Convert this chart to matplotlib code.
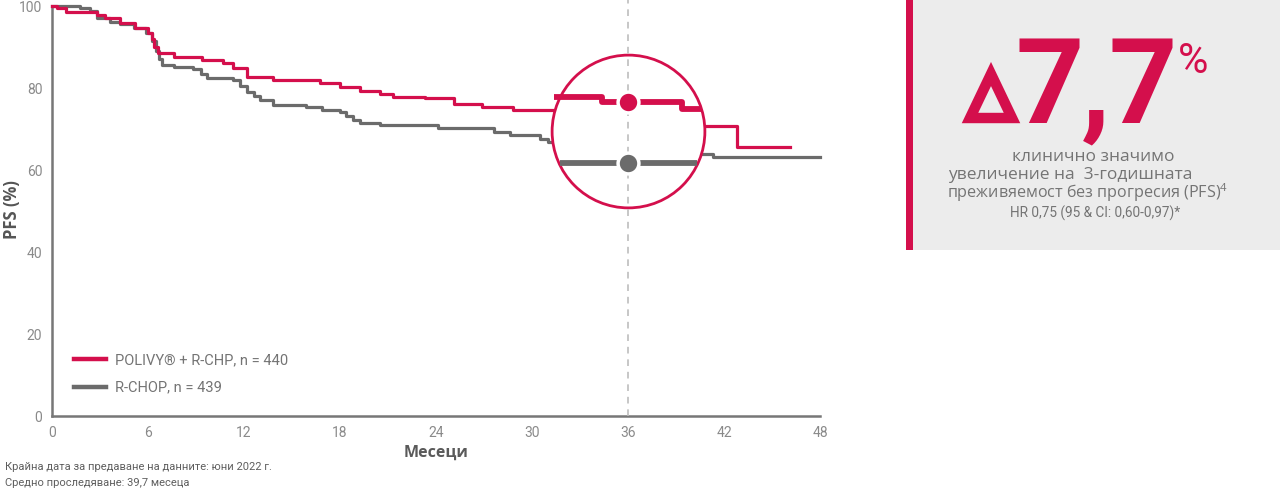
import numpy as np
import matplotlib
matplotlib.use('Agg')
import matplotlib.pyplot as plt
from matplotlib.patches import Rectangle, Polygon
from matplotlib.lines import Line2D

RED = '#d40f4c'
GREY = '#6b6b6b'
TXT = '#747474'

# Kaplan-Meier steps (months, PFS %)
polivy_t = [0, 0.3, 0.9, 2.8, 3.3, 4.25, 5.2, 6.0, 6.25, 6.4, 6.6, 7.6, 9.4, 10.7, 11.3,
            12.2, 13.8, 16.75, 18.0, 19.25, 20.5, 21.3, 23.3, 25.1, 26.9, 28.8, 32.5,
            36.5, 39.5, 40.5, 42.8, 46.1]
polivy_s = [100, 99.4, 98.6, 97.8, 97.0, 95.8, 94.6, 93.4, 92.0, 90.0, 88.5, 87.5, 86.8, 86.0, 85.0,
            82.7, 82.0, 81.3, 80.2, 79.3, 78.5, 77.8, 77.5, 76.1, 75.4, 74.6, 74.0,
            73.0, 71.5, 70.7, 65.6, 65.6]

rchop_t = [0, 1.75, 2.4, 2.8, 3.6, 4.25, 5.1, 5.9, 6.25, 6.5, 6.7, 6.9, 7.6, 8.8, 9.3, 9.7,
           11.3, 11.75, 12.2, 12.6, 13.0, 13.8, 15.9, 16.9, 18.0, 18.4, 18.8, 19.25, 20.5,
           24.1, 27.6, 28.6, 30.5, 31.0, 34.0, 38.0, 40.5, 41.3, 48]
rchop_s = [100, 99.4, 98.8, 97.0, 96.2, 95.6, 94.6, 93.4, 91.5, 89.0, 87.0, 85.6, 85.2, 84.6, 83.5, 82.4,
           82.0, 80.5, 79.0, 78.0, 77.1, 75.9, 75.4, 74.6, 74.2, 73.2, 72.2, 71.5, 71.0,
           70.2, 69.3, 68.5, 67.5, 66.8, 65.5, 64.5, 63.9, 63.2, 63.2]

# magnified view inside the circle
zoom_red_t = [31.35, 34.4, 39.4, 40.6]
zoom_red_s = [77.7, 76.5, 75.0, 75.0]
zoom_grey_t = [31.75, 40.3]
zoom_grey_s = [61.7, 61.7]
milestone = 36
dot_red, dot_grey = 76.6, 61.7
circle_y = 69.6

xticks = [0, 6, 12, 18, 24, 30, 36, 42, 48]
yticks = [0, 20, 40, 60, 80, 100]

W, H = 1280, 496
fig = plt.figure(figsize=(W / 100, H / 100), dpi=100)


def fx(px):
    return px / W


def fy(py):
    return 1 - py / H


ax = fig.add_axes([fx(52), fy(416), fx(820) - fx(52), fy(6) - fy(416)])
ax.set_xlim(0, 48)
ax.set_ylim(0, 100)

ax.step(polivy_t, polivy_s, where='post', color=RED, lw=2.3, zorder=3, clip_on=False)
ax.step(rchop_t, rchop_s, where='post', color=GREY, lw=2.3, zorder=2, clip_on=False)

# circle magnifier
ax.plot([milestone], [circle_y], 'o', ms=110, mfc='white', mec=RED, mew=2.0, zorder=4)
ax.plot([milestone, milestone], [0, 101.5], color='#bdbdbd', lw=1.2,
        ls=(0, (4, 3.5)), zorder=5, clip_on=False)
ax.step(zoom_red_t, zoom_red_s, where='post', color=RED, lw=4.2, zorder=6, solid_capstyle='butt')
ax.plot(zoom_grey_t, zoom_grey_s, color=GREY, lw=4.2, zorder=6, solid_capstyle='butt')
ax.plot([milestone], [dot_red], 'o', ms=15, mfc=RED, mec='white', mew=2.5, zorder=7)
ax.plot([milestone], [dot_grey], 'o', ms=15, mfc=GREY, mec='white', mew=2.5, zorder=7)

for s in ['top', 'right']:
    ax.spines[s].set_visible(False)
for s in ['left', 'bottom']:
    ax.spines[s].set_color('#777777')
    ax.spines[s].set_linewidth(1.8)
ax.set_xticks(xticks)
ax.set_yticks(yticks)
ax.tick_params(length=0, labelsize=10, labelcolor='#8a8a8a', pad=7)
for lab in ax.get_xticklabels() + ax.get_yticklabels():
    lab.set_family(['Roboto', 'DejaVu Sans'])

fig.text(fx(12), fy(210), 'PFS (%)', rotation=90, fontsize=12, fontweight='bold',
         color='#555555', ha='center', va='center', family=['Open Sans', 'DejaVu Sans'])
fig.text(fx(436), fy(453), 'Месеци', fontsize=11.5, fontweight='bold', color='#5a5a5a',
         ha='center', va='center', family=['Open Sans', 'DejaVu Sans'])

handles = [Line2D([], [], color=RED, lw=3.2), Line2D([], [], color=GREY, lw=3.2)]
leg = ax.legend(handles, ['POLIVY® + R-CHP, n = 440', 'R-CHOP, n = 439'],
                loc='lower left', bbox_to_anchor=(0.012, 0.02), frameon=False,
                handlelength=2.2, handletextpad=0.6, labelspacing=0.95,
                prop={'family': ['Roboto', 'DejaVu Sans'], 'size': 10.5})
for t in leg.get_texts():
    t.set_color(TXT)

fig.text(fx(5), fy(467), 'Крайна дата за предаване на данните: юни 2022 г.', fontsize=8,
         color='#5e5e5e', va='center', family=['Roboto', 'DejaVu Sans'])
fig.text(fx(5), fy(483), 'Средно проследяване: 39,7 месеца', fontsize=8,
         color='#5e5e5e', va='center', family=['Roboto', 'DejaVu Sans'])

# right panel
fig.add_artist(Rectangle((fx(913), fy(250)), 1 - fx(913), fy(0) - fy(250),
                         transform=fig.transFigure, facecolor='#ececec', edgecolor='none'))
fig.add_artist(Rectangle((fx(906), fy(250)), fx(913) - fx(906), fy(0) - fy(250),
                         transform=fig.transFigure, facecolor=RED, edgecolor='none'))

# delta sign as an outlined triangle
fig.add_artist(Polygon([(fx(970), fy(118)), (fx(1012), fy(118)), (fx(991), fy(74))],
                       closed=True, transform=fig.transFigure, facecolor='none',
                       edgecolor=RED, lw=7.5, joinstyle='miter'))
big = dict(color=RED, va='baseline', ha='center', family=['Roboto', 'DejaVu Sans'],
           fontweight='bold', fontsize=86)
fig.text(fx(1050), fy(123), '7', **big)
fig.text(fx(1096), fy(123), ',', **big)
fig.text(fx(1143), fy(123), '7', **big)
fig.text(fx(1193), fy(73), '%', fontsize=30, ha='center', color=RED, va='baseline',
         family=['Roboto', 'DejaVu Sans'])

sub = dict(color=TXT, ha='center', va='center', family=['Open Sans', 'DejaVu Sans'])
fig.text(fx(1093), fy(157), 'клинично значимо', fontsize=12.5, **sub)
fig.text(fx(1070), fy(175), 'увеличение на  3-годишната', fontsize=12.5, **sub)
fig.text(fx(1088), fy(193), 'преживяемост без прогресия (PFS)$^{\\mathregular{4}}$',
         fontsize=11.6, **sub)
fig.text(fx(1095), fy(213), 'HR 0,75 (95 & CI: 0,60-0,97)*', fontsize=9.8, color=TXT,
         ha='center', va='center', family=['Roboto', 'DejaVu Sans'])

fig.savefig('out.png', dpi=100)
